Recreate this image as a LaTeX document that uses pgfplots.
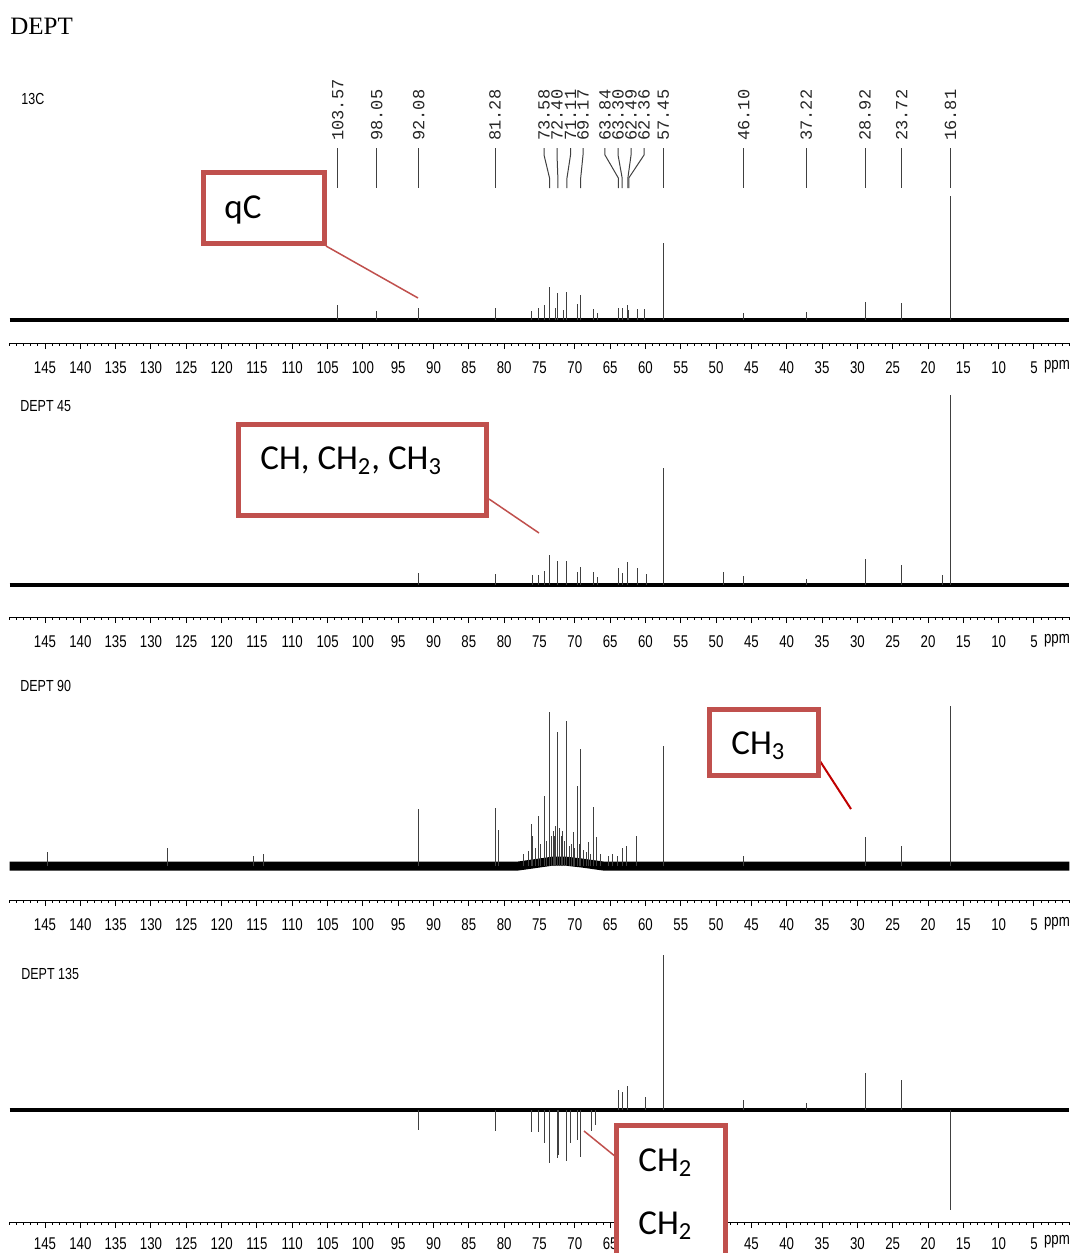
\documentclass[border=0pt]{standalone}
\usepackage{pgfplots}
\pgfplotsset{compat=1.18}
\usepackage{fontspec}
\setmainfont{Liberation Serif}
\newfontfamily\tickfont[FakeStretch=0.78]{Liberation Sans}
\newfontfamily\monofont{Liberation Mono}
\newfontfamily\calfont{Carlito}
\definecolor{boxred}{RGB}{192,80,77}
\definecolor{darkred}{RGB}{192,0,0}
\pgfplotsset{
  nmr/.style={
    scale only axis, width=529.8pt, xmin=0, xmax=150, x dir=reverse,
    axis x line=bottom, axis y line=none, x axis line style={-, line width=0.5pt},
    xtick={5,10,...,145}, minor xtick={0,...,150},
    tick align=outside, major tick length=3pt, minor tick length=1.4pt,
    every tick/.style={black, line width=0.5pt},
    xticklabel style={font={\tickfont\fontsize{8.5}{9}\selectfont}, yshift=-3pt},
    /pgf/number format/assume math mode=true,
    ytick=\empty, clip=false, anchor=south west,
  },
  base/.style={black, line width=1.6pt, line join=round},
  peaks/.style={ycomb, black!75, line width=0.5pt, no markers},
}
\begin{document}
\begin{tikzpicture}

% ---------- 13C ----------
\begin{axis}[nmr, at={(4.85pt,-171.5pt)}, height=81.5pt, ymin=-23, ymax=140]
\addplot[base] coordinates {(150,0) (0,0)};
\addplot[peaks] table {
x y
103.57 15
98.05 9
92.08 12
81.28 12
76.2 9
75.07 12
74.36 15
73.58 33
72.8 12
72.40 27
71.6 10
71.11 28
69.69 16
69.17 25
67.42 11
66.72 7
63.84 12
63.30 12
62.49 15
62.36 10
61.19 11
60.2 11
57.45 77
46.10 7
37.22 8
28.92 18
23.72 17
16.81 124
};
\end{axis}

% ---------- DEPT 45 ----------
\begin{axis}[nmr, at={(4.85pt,-308.5pt)}, height=118.5pt, ymin=-32, ymax=205]
\addplot[base] coordinates {(150,0) (0,0)};
\addplot[peaks] table {
x y
92.08 12
81.28 11
76.06 10
75.07 10
74.36 14
73.58 30
72.40 24
71.11 24
69.55 13
69.17 18
67.42 13
66.72 8
63.84 17
63.32 12
62.49 23
61.19 17
59.92 11
57.45 117
49.0 13
46.10 9
37.22 6
28.92 26
23.72 20
18.0 10
16.81 190
};
\end{axis}

% ---------- DEPT 90 ----------
\begin{axis}[nmr, at={(4.85pt,-450pt)}, height=105pt, ymin=-34, ymax=176]
\addplot[black, line width=4.5pt, line join=round] coordinates {(150,0) (78,0) (75,3) (73,5) (71.5,5) (69,3) (66,0) (0,0)};
\addplot[peaks] table {
x y
144.6 14
127.6 18
115.5 10
114.0 12
92.08 57
81.28 58
80.87 36
77.2 12
76.5 15
76.2 42
76.06 30
75.5 18
75.07 50
74.8 22
74.36 70
74.0 25
73.58 154
73.3 30
73.0 35
72.9 30
72.7 40
72.40 134
72.2 38
71.9 30
71.7 35
71.4 25
71.11 145
70.8 20
70.5 22
70.25 34
70.0 18
69.69 80
69.4 22
69.17 117
68.7 16
68.3 14
68.0 24
67.8 12
67.42 59
67.0 10
66.86 29
66.3 12
65.2 10
64.6 12
64.0 10
63.32 18
62.75 20
61.2 30
57.45 120
46.1 10
28.92 29
23.72 20
16.81 160
};
\end{axis}

% ---------- DEPT 135 ----------
\begin{axis}[nmr, at={(4.85pt,-611pt)}, height=141pt, ymin=-112, ymax=170,
  xticklabel style={yshift=1.5pt},
  xticklabels={5,10,15,20,25,30,35,40,45,{},{},{},65,70,75,80,85,90,95,100,105,110,115,120,125,130,135,140,145}]
\addplot[base] coordinates {(150,0) (0,0)};
\addplot[peaks] table {
x y
92.08 -20
81.28 -21
76.2 -22
75.07 -22
74.36 -33
73.58 -53
72.40 -48
72.24 -45
71.11 -51
70.54 -33
69.69 -30
69.17 -47
67.57 -21
67.14 -15
63.84 20
63.32 18
62.6 24
60.06 13
57.45 155
46.10 10
37.22 7
28.92 37
23.72 30
16.81 -100
};
\end{axis}

\begin{scope}[x=0.5pt,y=-0.5pt]
\node[anchor=base west, inner sep=0, font=\fontsize{12.5}{14}\selectfont] at (10,34) {DEPT};
% panel labels
\node[anchor=west, inner sep=0, font={\tickfont\fontsize{8}{9}\selectfont}] at (21,99) {13C};
\node[anchor=west, inner sep=0, font={\tickfont\fontsize{8}{9}\selectfont}] at (20,406) {DEPT 45};
\node[anchor=west, inner sep=0, font={\tickfont\fontsize{8}{9}\selectfont}] at (20,686) {DEPT 90};
\node[anchor=west, inner sep=0, font={\tickfont\fontsize{8}{9}\selectfont}] at (21,974) {DEPT 135};
% ppm units
\foreach \yy in {367,641,924,1242}
  \node[inner sep=0, font={\tickfont\fontsize{8.5}{9}\selectfont}] at (1057,\yy) {ppm};
% peak labels
\foreach \lab/\pk/\txt in {103.57/103.57/103.57, 98.05/98.05/98.05, 92.08/92.08/92.08, 81.28/81.28/81.28,
  74.36/73.58/73.58, 72.52/72.40/72.40, 70.61/71.11/71.11, 68.84/69.17/69.17,
  65.73/63.84/63.84, 63.88/63.30/63.30, 62.04/62.49/62.49, 60.2/62.36/62.36,
  57.45/57.45/57.45, 46.10/46.10/46.10, 37.22/37.22/37.22, 28.92/28.92/28.92,
  23.72/23.72/23.72, 16.81/16.81/16.81} {
  \draw[line width=0.5pt, black!75] ({9.7+(150-\lab)*7.064},148) -- ++(0,7) -- ({9.7+(150-\pk)*7.064},178) -- ++(0,10);
  \node[rotate=90, anchor=west, inner sep=0, text=black!85, font={\monofont\fontsize{8.5}{9}\selectfont}] at ({9.7+(150-\lab)*7.064},141) {\txt};
}
% annotation boxes
\draw[boxred, line width=0.75pt] (326,246) -- (418,298);
\draw[boxred, line width=2.5pt, fill=white] (203.5,172.5) rectangle (324.5,243.5);
\node[anchor=base west, inner sep=0, font={\calfont\fontsize{17.5}{20}\selectfont}] at (224,218) {qC};

\draw[boxred, line width=0.75pt] (489,499) -- (539,533);
\draw[boxred, line width=2.5pt, fill=white] (238.5,424.5) rectangle (486.5,515.5);
\node[anchor=base west, inner sep=0, font={\calfont\fontsize{17.5}{20}\selectfont}] at (260,469) {CH, CH\textsubscript{2}, CH\textsubscript{3}};

\draw[darkred, line width=1pt] (818,758) -- (851,809);
\draw[boxred, line width=2.5pt, fill=white] (709.5,709.5) rectangle (818.5,775.5);
\node[anchor=base west, inner sep=0, font={\calfont\fontsize{17.5}{20}\selectfont}] at (731,754) {CH\textsubscript{3}};

\draw[boxred, line width=0.75pt] (584,1131) -- (616,1157);
\draw[boxred, line width=2.5pt, fill=white] (616.5,1125.5) rectangle (725.5,1275);
\node[anchor=base west, inner sep=0, font={\calfont\fontsize{17.5}{20}\selectfont}] at (638,1171) {CH\textsubscript{2}};
\node[anchor=base west, inner sep=0, font={\calfont\fontsize{17.5}{20}\selectfont}] at (638,1234) {CH\textsubscript{2}};
\end{scope}
\pgfresetboundingbox
\path[use as bounding box] (0pt,0pt) rectangle (535.5pt,-626.5pt);
\end{tikzpicture}
\end{document}
